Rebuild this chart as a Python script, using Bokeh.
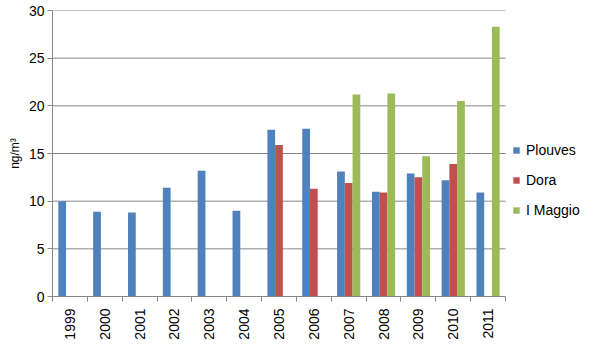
import math
import numpy as np
from bokeh.plotting import figure
from bokeh.models import Range1d, FixedTicker, Legend, LegendItem, ColumnDataSource
from bokeh.transform import dodge
from bokeh.embed import file_html
from bokeh.resources import INLINE

nan = float("nan")
years = ["1999", "2000", "2001", "2002", "2003", "2004", "2005",
         "2006", "2007", "2008", "2009", "2010", "2011"]
plouves = [10.0, 8.9, 8.8, 11.4, 13.2, 9.0, 17.5, 17.6, 13.1, 11.0, 12.9, 12.2, 10.9]
dora = [nan, nan, nan, nan, nan, nan, 15.9, 11.3, 11.9, 10.9, 12.5, 13.9, nan]
maggio = [nan, nan, nan, nan, nan, nan, nan, nan, 21.2, 21.3, 14.7, 20.5, 28.3]
y_ticks = [0, 5, 10, 15, 20, 25, 30]

n = len(years)
idx = list(range(n))
src = ColumnDataSource(dict(idx=idx,
                            plouves=np.array(plouves, dtype=float),
                            dora=np.array(dora, dtype=float),
                            maggio=np.array(maggio, dtype=float)))

FONT = "Liberation Sans"
GRID = "#868686"

# plot area: category part 453px wide, frame continues to the right edge for legend
W, H = 600, 360
LEFT, TOP, BOTTOM = 52, 10, 64
cat_px = 453.0
frame_w = W - LEFT
x_end = -0.5 + frame_w * n / cat_px

p = figure(width=W, height=H, output_backend="svg", toolbar_location=None,
           x_range=Range1d(-0.5, x_end), y_range=Range1d(0, 30),
           min_border_left=LEFT, min_border_right=0, min_border_top=TOP,
           min_border_bottom=BOTTOM)
p.outline_line_color = None
p.background_fill_color = "white"
p.border_fill_color = "white"

# horizontal gridlines limited to the category area
p.segment(x0=-0.5, x1=n - 0.5, y0=y_ticks[1:], y1=y_ticks[1:],
          line_color=GRID, line_width=1, level="underlay")

bw = 0.222
r1 = p.vbar(x=dodge("idx", -bw, range=p.x_range), top="plouves", width=bw,
            source=src, fill_color="#4F81BD", line_color=None)
r2 = p.vbar(x=dodge("idx", 0, range=p.x_range), top="dora", width=bw,
            source=src, fill_color="#C0504D", line_color=None)
r3 = p.vbar(x=dodge("idx", bw, range=p.x_range), top="maggio", width=bw,
            source=src, fill_color="#9BBB59", line_color=None)

# x axis
p.xaxis.bounds = (-0.5, n - 0.5)
p.xaxis.ticker = FixedTicker(ticks=idx, minor_ticks=[i - 0.5 for i in range(n + 1)])
p.xaxis.major_label_overrides = {i: y for i, y in enumerate(years)}
p.xaxis.major_label_orientation = math.pi / 2
p.xaxis.major_tick_line_color = None
p.xaxis.minor_tick_line_color = GRID
p.xaxis.minor_tick_out = 5
p.xaxis.minor_tick_in = 0
p.xaxis.axis_line_color = GRID
p.xaxis.major_label_text_font = FONT
p.xaxis.major_label_text_font_size = "14px"
p.xaxis.major_label_text_color = "black"
p.xaxis.major_label_standoff = 6
p.xgrid.grid_line_color = None

# y axis
p.yaxis.ticker = FixedTicker(ticks=y_ticks)
p.yaxis.minor_tick_line_color = None
p.yaxis.major_tick_line_color = GRID
p.yaxis.major_tick_out = 5
p.yaxis.major_tick_in = 0
p.yaxis.axis_line_color = GRID
p.yaxis.major_label_text_font = FONT
p.yaxis.major_label_text_font_size = "14px"
p.yaxis.major_label_text_color = "black"
p.yaxis.major_label_standoff = 3
p.yaxis.axis_label = "ng/m³"
p.yaxis.axis_label_text_font = FONT
p.yaxis.axis_label_text_font_size = "12px"
p.yaxis.axis_label_text_font_style = "normal"
p.yaxis.axis_label_text_color = "black"
p.yaxis.axis_label_standoff = 4
p.ygrid.grid_line_color = None

legend = Legend(items=[LegendItem(label="Plouves", renderers=[r1]),
                       LegendItem(label="Dora", renderers=[r2]),
                       LegendItem(label="I Maggio", renderers=[r3])],
                location=(460, 76), border_line_color=None,
                background_fill_alpha=0, padding=0, margin=0,
                glyph_width=8, glyph_height=8, label_standoff=6,
                label_height=20, spacing=10,
                label_text_font=FONT, label_text_font_size="14px",
                label_text_color="black")
p.add_layout(legend, "center")

open("out.html", "w").write(file_html(p, INLINE))
